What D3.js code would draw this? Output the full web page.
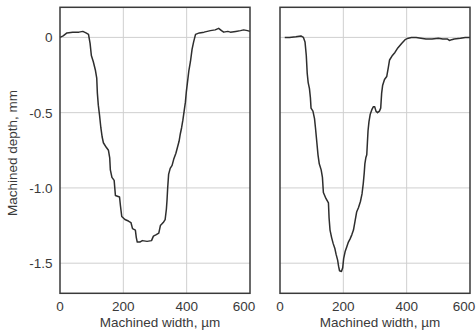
<!DOCTYPE html>
<html>
<head>
<meta charset="utf-8">
<script src="https://cdn.jsdelivr.net/npm/d3@7"></script>
<style>
  body { margin: 0; background: #fff; }
  text { font-family: "Liberation Sans", Arial, sans-serif; fill: #3a3a3a; }
</style>
</head>
<body>
<svg id="chart" width="476" height="334"></svg>
<script>
// profile 1 (left panel)
let leftWidth = [0, 10, 22, 40, 60, 72, 82, 90, 95, 99, 105, 112, 116, 118, 121, 125, 129, 133, 137, 146, 153, 157, 159, 164, 171, 173, 175, 188, 191, 195, 205, 216, 224, 229, 238, 241, 244, 252, 260, 275, 289, 295, 304, 312, 317, 326, 332, 336, 338, 340, 343, 348, 354, 359, 366, 371, 376, 380, 384, 388, 392, 396, 399, 403, 407, 412, 417, 422, 428, 440, 455, 475, 490, 501, 510, 517, 530, 538, 555, 570, 580, 592, 600]
let leftDepth = [0, 0.01, 0.03, 0.035, 0.035, 0.04, 0.03, 0.02, -0.04, -0.12, -0.16, -0.22, -0.27, -0.37, -0.45, -0.52, -0.60, -0.66, -0.70, -0.73, -0.75, -0.80, -0.88, -0.93, -0.95, -1.00, -1.05, -1.06, -1.12, -1.19, -1.21, -1.22, -1.23, -1.27, -1.28, -1.33, -1.36, -1.36, -1.35, -1.355, -1.35, -1.32, -1.31, -1.30, -1.25, -1.23, -1.21, -1.14, -1.08, -1.00, -0.91, -0.87, -0.85, -0.81, -0.77, -0.73, -0.69, -0.64, -0.60, -0.55, -0.49, -0.43, -0.36, -0.29, -0.22, -0.16, -0.08, -0.03, 0.02, 0.03, 0.035, 0.045, 0.05, 0.06, 0.045, 0.035, 0.04, 0.035, 0.04, 0.045, 0.05, 0.045, 0.04]

// profile 2 (right panel)
let rightWidth = [15, 30, 50, 66, 74, 79, 83, 86, 89, 93, 96, 98, 104, 109, 112, 116, 120, 124, 130, 134, 137, 145, 153, 155, 158, 163, 168, 173, 177, 182, 185, 188, 194, 198, 201, 206, 211, 216, 221, 227, 232, 237, 242, 248, 254, 259, 263, 266, 268, 271, 274, 276, 278, 281, 285, 290, 295, 299, 303, 308, 314, 318, 321, 324, 330, 337, 342, 346, 355, 363, 372, 384, 395, 405, 415, 430, 445, 461, 480, 500, 514, 528, 535, 542, 550, 570, 585, 600]
let rightDepth = [0, 0, 0.005, 0.01, 0, -0.03, -0.12, -0.24, -0.30, -0.34, -0.40, -0.47, -0.49, -0.54, -0.60, -0.69, -0.78, -0.84, -0.88, -0.93, -1.03, -1.07, -1.10, -1.20, -1.28, -1.33, -1.37, -1.40, -1.44, -1.48, -1.52, -1.55, -1.555, -1.53, -1.47, -1.42, -1.39, -1.36, -1.34, -1.31, -1.28, -1.22, -1.16, -1.13, -1.09, -1.04, -0.97, -0.90, -0.84, -0.80, -0.78, -0.70, -0.62, -0.56, -0.51, -0.48, -0.46, -0.46, -0.49, -0.50, -0.49, -0.47, -0.37, -0.32, -0.28, -0.26, -0.20, -0.15, -0.12, -0.10, -0.07, -0.04, -0.015, -0.005, 0, 0, -0.005, -0.01, -0.01, -0.005, -0.01, -0.01, -0.02, -0.015, -0.01, -0.005, 0, 0]

let xTicks = [0, 200, 400, 600]
let yTicks = [0, -0.5, -1.0, -1.5]
let yTickLabels = ["0", "-0.5", "-1.0", "-1.5"]
let xLabel = "Machined width, \u00b5m"
let yLabel = "Machined depth, mm"

let svg = d3.select("#chart")

let plotTop = 7.3, plotBottom = 293.3

let y = d3.scaleLinear().domain([-1.7, 0.2]).range([plotBottom, plotTop])

function drawPanel(x0, x1, widths, depths, showY) {
    let x = d3.scaleLinear().domain([0, 600]).range([x0, x1])
    let g = svg.append("g")

    // grid
    g.selectAll(".vgrid")
        .data(xTicks.filter(d => d > 0 && d < 600))
        .enter().append("line")
        .attr("x1", d => x(d)).attr("x2", d => x(d))
        .attr("y1", plotTop).attr("y2", plotBottom)
        .attr("stroke", "#cfcfcf").attr("stroke-width", 1)
    g.selectAll(".hgrid")
        .data(yTicks)
        .enter().append("line")
        .attr("x1", x0).attr("x2", x1)
        .attr("y1", d => y(d)).attr("y2", d => y(d))
        .attr("stroke", "#cfcfcf").attr("stroke-width", 1)

    // profile line
    let pts = widths.map((w, i) => [w, depths[i]])
    let line = d3.line().x(d => x(d[0])).y(d => y(d[1]))
    g.append("path")
        .attr("d", line(pts))
        .attr("fill", "none")
        .attr("stroke", "#2e2e2e")
        .attr("stroke-width", 1.5)
        .attr("stroke-linejoin", "round")

    // frame
    g.append("rect")
        .attr("x", x0).attr("y", plotTop)
        .attr("width", x1 - x0).attr("height", plotBottom - plotTop)
        .attr("fill", "none").attr("stroke", "#3a3a3a").attr("stroke-width", 1.5)

    // x tick labels (last one pulled in a little, like the original)
    g.selectAll(".xt")
        .data(xTicks)
        .enter().append("text")
        .attr("x", d => d == 600 ? x(d) - 6 : x(d))
        .attr("y", 311)
        .attr("text-anchor", "middle")
        .style("font-size", "13.5px")
        .text(d => d)

    g.append("text")
        .attr("x", (x0 + x1) / 2 + 5)
        .attr("y", 327)
        .attr("text-anchor", "middle")
        .style("font-size", "13.5px")
        .text(xLabel)

    if (showY) {
        g.selectAll(".yt")
            .data(yTicks)
            .enter().append("text")
            .attr("x", 52.5)
            .attr("y", d => y(d) + 5)
            .attr("text-anchor", "end")
            .style("font-size", "13.5px")
            .text((d, i) => yTickLabels[i])

        g.append("text")
            .attr("transform", "translate(17,153) rotate(-90)")
            .attr("text-anchor", "middle")
            .style("font-size", "13.5px")
            .text(yLabel)
    }
}

drawPanel(60, 250, leftWidth, leftDepth, true)
drawPanel(280, 470, rightWidth, rightDepth, false)
</script>
</body>
</html>
